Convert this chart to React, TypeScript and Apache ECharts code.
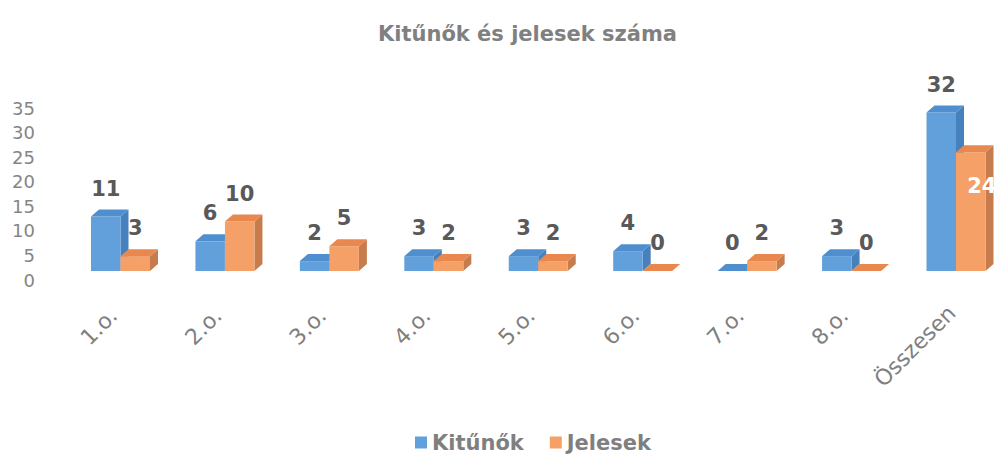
import React, { useEffect, useRef } from "react";
import * as echarts from "echarts";

const categories = ["1.o.", "2.o.", "3.o.", "4.o.", "5.o.", "6.o.", "7.o.", "8.o.", "Összesen"];
const kitunok = [11, 6, 2, 3, 3, 4, 0, 3, 32];
const jelesek = [3, 10, 5, 2, 2, 0, 2, 0, 24];
const jelesekLabelInside = [0, 0, 0, 0, 0, 0, 0, 0, 1];
const seriesNames = ["Kitűnők", "Jelesek"];

const FONT = "'DejaVu Sans', 'Open Sans', sans-serif";
const faces = [
  { front: "#62a0dc", top: "#4f8fcf", side: "#4680bd" },
  { front: "#f4a066", top: "#e8874e", side: "#c77c4e" },
];

function makeRenderItem(seriesIdx: number) {
  return (params: any, api: any) => {
    const i = api.value(0);
    const v = api.value(1);
    const inside = api.value(2);
    const base = api.coord([i, 0]);
    const top = api.coord([i, v]);
    const band = api.size([1, 0])[0];
    const bw = band * 0.2825;
    const dx = 8;
    const dy = -7;
    const x0 = seriesIdx === 0 ? base[0] - bw : base[0];
    const yTop = top[1];
    const yBase = base[1];
    const f = faces[seriesIdx];
    const children: any[] = [];
    children.push({
      type: "polygon",
      shape: { points: [[x0 + bw, yTop], [x0 + bw + dx, yTop + dy], [x0 + bw + dx, yBase + dy], [x0 + bw, yBase]] },
      style: { fill: f.side },
    });
    children.push({
      type: "rect",
      shape: { x: x0, y: yTop, width: bw, height: yBase - yTop },
      style: { fill: f.front },
    });
    children.push({
      type: "polygon",
      shape: { points: [[x0, yTop], [x0 + bw, yTop], [x0 + bw + dx, yTop + dy], [x0 + dx, yTop + dy]] },
      style: { fill: f.top },
    });
    children.push({
      type: "text",
      x: x0 + bw / 2 + (inside ? 11 : 0),
      y: inside ? yTop + 34 : yTop - 28,
      style: {
        text: String(v),
        fill: inside ? "#ffffff" : "#595959",
        font: `bold 21px ${FONT}`,
        align: "center",
        verticalAlign: "middle",
      },
    });
    return { type: "group", children };
  };
}

export default function App() {
  const ref = useRef<HTMLDivElement>(null);
  useEffect(() => {
    if (!ref.current) return;
    const chart = echarts.init(ref.current, null, { renderer: "svg" });
    chart.setOption({
      animation: false,
      backgroundColor: "#ffffff",
      title: {
        text: "Kitűnők és jelesek száma",
        left: 373,
        top: 18,
        textStyle: { fontFamily: FONT, fontSize: 21, fontWeight: "bold", color: "#808080" },
      },
      legend: {
        data: seriesNames,
        left: 410,
        top: 427,
        icon: "rect",
        itemWidth: 12,
        itemHeight: 12,
        itemGap: 26,
        textStyle: { fontFamily: FONT, fontSize: 21, fontWeight: "bold", color: "#7f7f7f" },
      },
      grid: [
        { left: 120.5, top: 97.75, width: 835.5, height: 173.25 },
        { left: 44, top: 108, width: 10, height: 172 },
      ],
      xAxis: [
        {
          type: "category",
          gridIndex: 0,
          boundaryGap: false,
          data: categories.map((c, idx) =>
            idx === categories.length - 1 ? { value: c, textStyle: { padding: [0, 6, 0, 0] } } : c
          ),
          axisLine: { show: false },
          axisTick: { show: false },
          splitLine: { show: false },
          axisLabel: {
            rotate: 45,
            margin: 34,
            interval: 0,
            padding: [22, 10, 0, 0],
            fontFamily: FONT,
            fontSize: 22,
            color: "#7f7f7f",
          },
        },
        { type: "value", gridIndex: 1, show: false },
      ],
      yAxis: [
        { type: "value", gridIndex: 0, min: 0, max: 35, show: false },
        {
          type: "value",
          gridIndex: 1,
          min: 0,
          max: 35,
          interval: 5,
          axisLine: { show: false },
          axisTick: { show: false },
          splitLine: { show: false },
          axisLabel: { margin: 9, fontFamily: FONT, fontSize: 18, color: "#858585" },
        },
      ],
      series: [
        {
          name: seriesNames[0],
          type: "custom",
          xAxisIndex: 0,
          yAxisIndex: 0,
          clip: false,
          itemStyle: { color: faces[0].front },
          renderItem: makeRenderItem(0),
          data: kitunok.map((v, i) => [i, v, 0]),
        },
        {
          name: seriesNames[1],
          type: "custom",
          xAxisIndex: 0,
          yAxisIndex: 0,
          clip: false,
          itemStyle: { color: faces[1].front },
          renderItem: makeRenderItem(1),
          data: jelesek.map((v, i) => [i, v, jelesekLabelInside[i]]),
        },
      ],
    });
    return () => chart.dispose();
  }, []);
  return (
    <div
      ref={ref}
      style={{ position: "absolute", left: 0, top: 0, width: 995, height: 457 }}
    />
  );
}
